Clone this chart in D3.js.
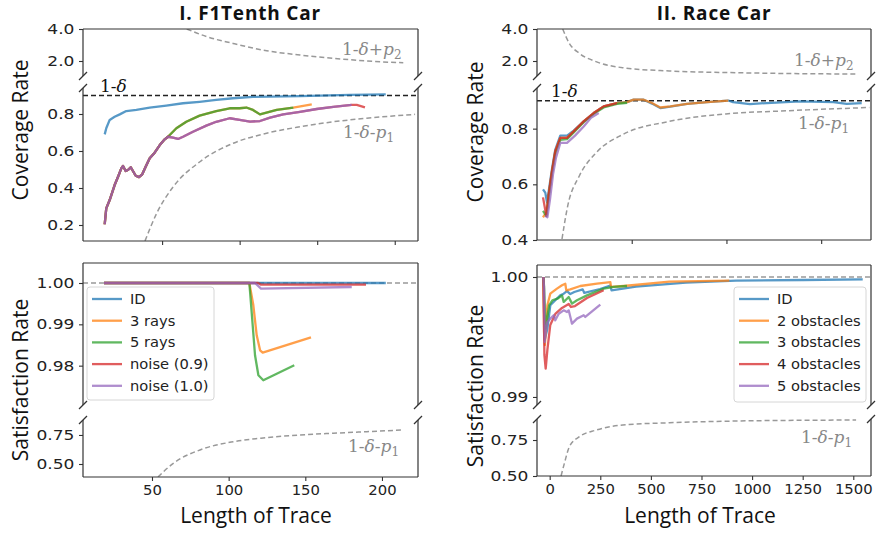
<!DOCTYPE html>
<html>
<head>
<meta charset="utf-8">
<script src="https://cdn.jsdelivr.net/npm/d3@7"></script>
<style>
  body { margin: 0; background: #fff; }
  svg { display: block; }
</style>
</head>
<body>
<svg id="chart" width="876" height="533"></svg>
<script>
// ---------- data ----------
const namesF1 = ["ID", "3 rays", "5 rays", "noise (0.9)", "noise (1.0)"];
const namesRace = ["ID", "2 obstacles", "3 obstacles", "4 obstacles", "5 obstacles"];
const colors = ["#1f77b4", "#ff7f0e", "#2ca02c", "#d62728", "#9467bd"];

// I. F1Tenth coverage
const f1CovID = [[13.0,0.690],[14.0,0.723],[16.2,0.768],[19.4,0.785],[22.7,0.798],[26.9,0.816],[33.4,0.822],[42.0,0.834],[52.7,0.845],[63.5,0.858],[74.2,0.866],[84.9,0.876],[95.7,0.885],[108.6,0.892],[139,0.897],[171.1,0.903],[194.2,0.906]];
const f1CovStart = [[13.0,0.204],[14.0,0.290],[16.2,0.335],[19.4,0.416],[21.6,0.461],[23.7,0.506],[24.8,0.519],[26.5,0.492],[28.0,0.497],[29.8,0.512],[31.2,0.492],[33.0,0.466],[35.1,0.459],[37.2,0.474],[39.4,0.515],[42.0,0.561],[45.2,0.591],[48.5,0.632],[51.7,0.663],[53.8,0.677]];
const f1CovRays5 = [...f1CovStart, [59.2,0.723],[65.6,0.758],[74.2,0.791],[84.9,0.816],[93.6,0.831],[100.0,0.831],[104.3,0.835],[108.6,0.822],[113.1,0.798],[123.9,0.822],[134.6,0.834]];
const f1CovRays3 = [...f1CovRays5, [146.5,0.852]];
const f1CovNoise10 = [...f1CovStart, [57.0,0.672],[60.3,0.665],[63.5,0.677],[69.9,0.704],[78.5,0.737],[84.9,0.758],[93.6,0.777],[100.0,0.768],[106.7,0.759],[113.1,0.762],[119.6,0.780],[128.1,0.798],[138.9,0.812],[149.7,0.827],[160.4,0.839],[172.2,0.849]];
const f1CovNoise09 = [...f1CovNoise10, [175.5,0.849],[180.8,0.836]];
const f1CovUpperBound = [[65.9,4.0],[78.8,3.52],[95.7,3.10],[117.4,2.64],[138.9,2.375],[160.2,2.17],[181.9,2.0],[205.5,1.89]];
const f1CovLowerBound = [[39.0,0.114],[46.5,0.263],[57.2,0.407],[74.4,0.542],[95.9,0.642],[117.4,0.696],[138.9,0.731],[160.4,0.758],[181.9,0.777],[213.1,0.798]];

// I. F1Tenth satisfaction
const f1SatID = [[18.7,1.0],[202.5,1.0]];
const f1SatRays3 = [[18.7,1.0],[113.5,1.0],[116.1,0.9946],[118.3,0.98735],[120.5,0.98372],[122.2,0.98314],[153.7,0.98686]];
const f1SatRays5 = [[18.7,1.0],[113.5,1.0],[115.0,0.99298],[117.2,0.98251],[119.4,0.97767],[122.6,0.97646],[142.8,0.98009]];
const f1SatNoise09 = [[18.7,1.0],[119.2,1.0],[121.1,0.99959],[189.6,0.99959]];
const f1SatNoise10 = [[18.7,1.0],[117.2,1.0],[121.1,0.99862],[180.3,0.99903]];
const f1SatLowerBound = [[53.9,0.388],[63.9,0.506],[81.3,0.621],[103,0.692],[124.8,0.727],[146.6,0.75],[168.3,0.765],[190.1,0.778],[213.9,0.793]];

// II. Race car coverage
const raceCovID = [[31.7,0.582],[43.8,0.570],[52.8,0.535],[61.8,0.575],[79.2,0.655],[96.6,0.725],[123,0.775],[158.4,0.775],[193.7,0.793],[246.5,0.826],[299.3,0.856],[352.1,0.880],[422.3,0.892],[475.1,0.895],[510.4,0.904],[563.2,0.904],[607,0.890],[650.8,0.874],[703.6,0.879],[791.8,0.889],[897.3,0.895],[1009.8,0.901],[1034.6,0.895],[1124.3,0.888],[1212.5,0.892],[1388.2,0.898],[1564,0.895],[1634.7,0.889],[1713.9,0.892]];
const raceCovObs2 = [[31.7,0.481],[40,0.490],[49.1,0.493],[61.8,0.564],[79.2,0.647],[96.6,0.719],[123,0.767],[158.4,0.767],[193.7,0.790],[246.5,0.826],[299.3,0.856],[352.1,0.880],[422.3,0.892],[475.1,0.895],[510.4,0.904],[563.2,0.904],[607,0.892],[650.8,0.876],[703.6,0.880],[791.8,0.889],[897.3,0.895],[1009.8,0.901]];
const raceCovObs3 = [[31.7,0.505],[49.1,0.487],[61.8,0.556],[79.2,0.640],[96.6,0.712],[123,0.760],[158.4,0.762],[193.7,0.786],[246.5,0.823],[299.3,0.853],[352.1,0.876],[422.3,0.889],[475.1,0.893]];
const raceCovObs4 = [[31.7,0.553],[49.1,0.487],[61.8,0.564],[79.2,0.647],[96.6,0.719],[123,0.767],[158.4,0.767],[193.7,0.790],[246.5,0.826],[299.3,0.856],[352.1,0.880],[422.3,0.892]];
const raceCovObs5 = [[43.8,0.487],[55,0.482],[68.6,0.546],[84.5,0.636],[100.3,0.696],[123,0.749],[158.4,0.749],[200.6,0.775],[246.5,0.808],[285,0.839],[325.7,0.856]];
const raceCovUpperBound = [[135.7,4.0],[170.5,3.104],[223.3,2.48],[311.4,1.96],[452.4,1.58],[698.3,1.375],[1050.4,1.27],[1402.5,1.206],[1683.8,1.19]];
const raceCovLowerBound = [[132,0.4036],[162,0.522],[223.3,0.630],[311.4,0.713],[452.4,0.779],[698.3,0.826],[997.6,0.853],[1314.3,0.864],[1754,0.876]];

// II. Race car satisfaction
const raceSatID = [[-31.1,1.0],[-24.7,0.99475],[-11.4,0.99569],[2.9,0.99764],[27.6,0.99806],[52.3,0.99847],[69.2,0.99861],[85.5,0.99883],[101.8,0.99858],[121.5,0.99875],[163,0.99897],[171,0.99867],[248.5,0.999],[299.5,0.99928],[305.4,0.99889],[426.5,0.99919],[673.5,0.99953],[920.6,0.99969],[1250.2,0.99975],[1546.6,0.99981]];
const raceSatObs2 = [[-31.1,1.0],[-27.7,0.99542],[-23.7,0.99433],[-11.4,0.99764],[2.9,0.99861],[36,0.99903],[60.8,0.99931],[77.1,0.99944],[82.1,0.99889],[101.8,0.99897],[151.2,0.99925],[233.8,0.99944],[299.5,0.99958],[303,0.99917],[365.7,0.99925],[591,0.99961],[887.5,0.99969]];
const raceSatObs3 = [[-31.1,1.0],[-27.7,0.99917],[-19.8,0.99569],[-3.0,0.99764],[13.3,0.99806],[38,0.99819],[60.8,0.99847],[69.2,0.99792],[93.9,0.99833],[110.2,0.99778],[134.9,0.99806],[184.3,0.99847],[266.8,0.99903],[316.2,0.99917],[381.9,0.99925]];
const raceSatObs4 = [[-31.1,1.0],[-26.2,0.9935],[-19.8,0.99236],[-11.4,0.99392],[2.9,0.996],[27.6,0.99692],[60.8,0.99742],[93.9,0.99775],[105.2,0.9975],[125,0.99758],[184.3,0.99825],[266.8,0.99889]];
const raceSatObs5 = [[-31.1,1.0],[-27.7,0.999],[-24.7,0.99458],[-19.8,0.99542],[-11.4,0.99625],[2.9,0.99653],[19.8,0.99681],[27.6,0.99639],[44.5,0.99694],[69.2,0.99722],[85.5,0.99708],[93.9,0.99722],[110.2,0.99611],[134.9,0.99653],[168,0.99681],[175.9,0.99667],[250,0.99769]];
const raceSatLowerBound = [[56.2,0.5],[72.6,0.588],[97.3,0.7035],[146.7,0.773],[229.2,0.819],[361.1,0.854],[591.4,0.870],[920.9,0.882],[1250.5,0.887],[1513.8,0.889]];

// tick values
const ticksCovUpper = [4.0, 2.0];
const ticksF1CovLower = [0.2, 0.4, 0.6, 0.8];
const ticksRaceCovLower = [0.4, 0.6, 0.8];
const ticksF1SatUpper = [0.98, 0.99, 1.00];
const ticksRaceSatUpper = [0.99, 1.00];
const ticksSatLower = [0.50, 0.75];
const ticksF1X = [50, 100, 150, 200];
const ticksRaceCovX = [500, 1000, 1500];
const ticksRaceSatX = [0, 250, 500, 750, 1000, 1250, 1500];

// ---------- drawing ----------
const svg = d3.select("#chart");
const defs = svg.append("defs");
const axisColor = "#333";
const tickTextColor = "#222";
const boundColor = "#999";
let clipId = 0;

function mathLabel(g, x, y, op, sub, color) {
    const t = g.append("text")
        .attr("x", x).attr("y", y)
        .style("font-family", "DejaVu Serif")
        .style("font-size", "17px")
        .style("fill", color);
    t.append("tspan").text("1-");
    t.append("tspan").style("font-style", "italic").text("δ");
    if (op) {
        t.append("tspan").text(op);
        t.append("tspan").style("font-style", "italic").text("p");
        t.append("tspan").attr("dy", 4).style("font-size", "12px").text(sub);
    }
}

function subAxes(p, x, y, yTicks, fmt, part) {
    const [x0, x1] = x.range();
    const [yTop, yBot] = y.range();
    const g = svg.append("g");
    const id = "clip" + (clipId++);
    defs.append("clipPath").attr("id", id)
        .append("rect").attr("x", x0).attr("y", yTop).attr("width", x1 - x0).attr("height", yBot - yTop);
    const plot = g.append("g").attr("clip-path", `url(#${id})`);

    // reference line
    if (p.refLine) {
        plot.append("line")
            .attr("x1", x0).attr("x2", x1)
            .attr("y1", y(p.refLine.value)).attr("y2", y(p.refLine.value))
            .attr("stroke", p.refLine.color).attr("stroke-width", 1.5)
            .attr("stroke-dasharray", "5,3");
    }
    // bound curves
    const bline = d3.line().x(d => x(d[0])).y(d => y(d[1])).curve(d3.curveMonotoneX);
    p.bounds.forEach(b => {
        plot.append("path").datum(b)
            .attr("d", bline).attr("fill", "none")
            .attr("stroke", boundColor).attr("stroke-width", 1.5)
            .attr("stroke-dasharray", "5,3");
    });
    // series
    const line = d3.line().x(d => x(d[0])).y(d => y(d[1]));
    p.series.forEach((s, i) => {
        plot.append("path").datum(s)
            .attr("d", line).attr("fill", "none")
            .attr("stroke", colors[i]).attr("stroke-width", 2.3)
            .attr("stroke-opacity", 0.75)
            .attr("stroke-linejoin", "round");
    });

    // spines
    const sp = g.append("g").attr("stroke", axisColor).attr("stroke-width", 1.2);
    sp.append("line").attr("x1", x0).attr("x2", x0).attr("y1", yTop).attr("y2", yBot);
    sp.append("line").attr("x1", x1).attr("x2", x1).attr("y1", yTop).attr("y2", yBot);
    if (part === "upper") sp.append("line").attr("x1", x0).attr("x2", x1).attr("y1", yTop).attr("y2", yTop);
    else sp.append("line").attr("x1", x0).attr("x2", x1).attr("y1", yBot).attr("y2", yBot);

    // break marks
    const by = part === "upper" ? yBot : yTop;
    [x0, x1].forEach(bx => {
        sp.append("line").attr("x1", bx - 4).attr("y1", by + 4).attr("x2", bx + 4).attr("y2", by - 4);
    });

    // y axis
    const ya = g.append("g").attr("transform", `translate(${x0},0)`)
        .call(d3.axisLeft(y).tickValues(yTicks).tickFormat(d3.format(fmt)).tickSize(4).tickPadding(3));
    styleAxis(ya, 1.22);
    return g;
}

function styleAxis(a, stretch) {
    a.select(".domain").remove();
    a.selectAll(".tick line").attr("stroke", axisColor).attr("stroke-width", 1.1);
    a.selectAll(".tick text")
        .style("font-family", "DejaVu Sans")
        .style("font-size", "14px")
        .style("fill", tickTextColor)
        .attr("transform", `scale(${stretch},1)`);
}

function panel(p) {
    const x = d3.scaleLinear().domain(p.xDomain).range(p.xRange);
    const yU = d3.scaleLinear().domain(p.upperDomain).range(p.upperRange);
    const yL = d3.scaleLinear().domain(p.lowerDomain).range(p.lowerRange);
    subAxes(p, x, yU, p.upperTicks, p.upperFmt, "upper");
    subAxes(p, x, yL, p.lowerTicks, p.lowerFmt, "lower");

    const xa = svg.append("g").attr("transform", `translate(0,${p.lowerRange[1]})`)
        .call(d3.axisBottom(x).tickValues(p.xTicks).tickSize(4).tickPadding(4)
            .tickFormat(p.xLabels ? d3.format("d") : ""));
    styleAxis(xa, 1.06);

    // y label
    svg.append("text")
        .attr("transform", `translate(${p.yLabelX},${p.yLabelY}) rotate(-90)`)
        .attr("text-anchor", "middle")
        .style("font-family", "Open Sans")
        .style("font-size", "21px")
        .style("fill", "#111")
        .text(p.yLabel);

    p.labels.forEach(l => mathLabel(svg, l.x, l.y, l.op, l.sub, l.color));

    if (p.legend) {
        const L = p.legend;
        const lg = svg.append("g");
        lg.append("rect")
            .attr("x", L.x).attr("y", L.y).attr("width", L.w).attr("height", L.h)
            .attr("rx", 3).attr("fill", "#fff").attr("fill-opacity", 0.85)
            .attr("stroke", "#d6d6d6");
        L.names.forEach((n, i) => {
            const yy = L.y + 12 + i * 21.7;
            lg.append("line")
                .attr("x1", L.x + 5).attr("x2", L.x + 35)
                .attr("y1", yy).attr("y2", yy)
                .attr("stroke", colors[i]).attr("stroke-width", 2.3).attr("stroke-opacity", 0.75);
            lg.append("text")
                .attr("transform", `translate(${L.x + 43},${yy + 5}) scale(1.05,1)`)
                .style("font-family", "DejaVu Sans")
                .style("font-size", "14px")
                .style("fill", "#222")
                .text(n);
        });
    }
    if (p.xTitle) {
        svg.append("text")
            .attr("x", p.xTitle.x).attr("y", 523)
            .attr("text-anchor", "middle")
            .style("font-family", "Open Sans")
            .style("font-size", "21px")
            .style("fill", "#111")
            .text("Length of Trace");
    }
}

// Titles
[["I. F1Tenth Car", 250], ["II. Race Car", 714]].forEach(([t, cx]) => {
    svg.append("text")
        .attr("x", cx).attr("y", 20)
        .attr("text-anchor", "middle")
        .style("font-family", "Open Sans")
        .style("font-weight", "bold")
        .style("font-size", "19px")
        .style("letter-spacing", "0.8px")
        .style("fill", "#111")
        .text(t);
});

panel({
    xDomain: [-1, 215], xRange: [83, 418], xTicks: ticksF1X, xLabels: false,
    upperDomain: [4, 1.0625], upperRange: [29, 76], upperTicks: ticksCovUpper, upperFmt: ".1f",
    lowerDomain: [0.9405, 0.1135], lowerRange: [88, 241], lowerTicks: ticksF1CovLower, lowerFmt: ".1f",
    series: [f1CovID, f1CovRays3, f1CovRays5, f1CovNoise09, f1CovNoise10],
    bounds: [f1CovUpperBound, f1CovLowerBound],
    refLine: { value: 0.9, color: "#222" },
    yLabel: "Coverage Rate", yLabelX: 28, yLabelY: 130,
    labels: [
        { x: 100, y: 92, color: "#111" },
        { x: 342, y: 55, op: "+", sub: "2", color: "#888" },
        { x: 343, y: 138, op: "-", sub: "1", color: "#888" }
    ]
});

panel({
    xDomain: [5, 223.5], xRange: [83, 418], xTicks: ticksF1X, xLabels: true,
    upperDomain: [1.00484, 0.97048], upperRange: [263, 405], upperTicks: ticksF1SatUpper, upperFmt: ".2f",
    lowerDomain: [0.879, 0.388], lowerRange: [420, 477], lowerTicks: ticksSatLower, lowerFmt: ".2f",
    series: [f1SatID, f1SatRays3, f1SatRays5, f1SatNoise09, f1SatNoise10],
    bounds: [f1SatLowerBound],
    refLine: { value: 1.0, color: boundColor },
    yLabel: "Satisfaction Rate", yLabelX: 28, yLabelY: 380,
    labels: [{ x: 348, y: 452, op: "-", sub: "1", color: "#888" }],
    legend: { x: 87, y: 287, w: 127, h: 113, names: namesF1 },
    xTitle: { x: 256 }
});

panel({
    xDomain: [0, 1763], xRange: [537, 871], xTicks: ticksRaceCovX, xLabels: false,
    upperDomain: [4, 1.0625], upperRange: [29, 76], upperTicks: ticksCovUpper, upperFmt: ".1f",
    lowerDomain: [0.946, 0.4], lowerRange: [88, 240], lowerTicks: ticksRaceCovLower, lowerFmt: ".1f",
    series: [raceCovID, raceCovObs2, raceCovObs3, raceCovObs4, raceCovObs5],
    bounds: [raceCovUpperBound, raceCovLowerBound],
    refLine: { value: 0.9, color: "#222" },
    yLabel: "Coverage Rate", yLabelX: 483, yLabelY: 132,
    labels: [
        { x: 551, y: 97, color: "#111" },
        { x: 794, y: 66, op: "+", sub: "2", color: "#888" },
        { x: 798, y: 129, op: "-", sub: "1", color: "#888" }
    ]
});

panel({
    xDomain: [-62.7, 1587.5], xRange: [537, 871], xTicks: ticksRaceSatX, xLabels: true,
    upperDomain: [1.001, 0.98933], upperRange: [265, 405], upperTicks: ticksRaceSatUpper, upperFmt: ".2f",
    lowerDomain: [0.896, 0.5], lowerRange: [419, 476], lowerTicks: ticksSatLower, lowerFmt: ".2f",
    series: [raceSatID, raceSatObs2, raceSatObs3, raceSatObs4, raceSatObs5],
    bounds: [raceSatLowerBound],
    refLine: { value: 1.0, color: boundColor },
    yLabel: "Satisfaction Rate", yLabelX: 483, yLabelY: 386,
    labels: [{ x: 801, y: 443, op: "-", sub: "1", color: "#888" }],
    legend: { x: 734, y: 287, w: 132, h: 115, names: namesRace },
    xTitle: { x: 700 }
});
</script>
</body>
</html>
